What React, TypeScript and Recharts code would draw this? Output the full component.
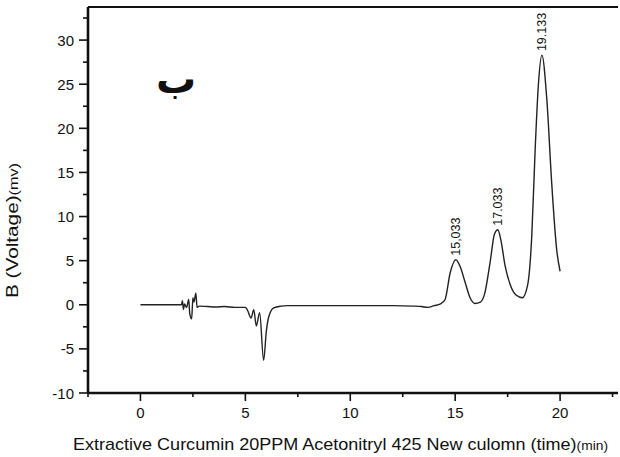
import { LineChart, Line, XAxis, YAxis, ReferenceLine, ReferenceDot } from "recharts";

// retention time (min)
const times = [
  0, 0.5, 1, 1.5, 1.95, 2.0, 2.05, 2.1, 2.2, 2.3, 2.35, 2.44, 2.5, 2.55, 2.64, 2.7, 2.8,
  3.2, 3.6, 4.0, 4.5, 5.0, 5.1, 5.27, 5.4, 5.52, 5.68, 5.87, 6.0, 6.1, 6.35, 6.7, 7.0,
  8, 9, 10, 11, 12, 13, 13.4, 13.7, 14.0, 14.3, 14.52, 14.76, 15.033, 15.24, 15.48, 15.71,
  15.95, 16.2, 16.4, 16.67, 16.87, 17.033, 17.18, 17.38, 17.62, 17.9, 18.2, 18.45, 18.65,
  18.81, 18.97, 19.133, 19.37, 19.6, 19.84, 20.0,
];

// detector signal (mV)
const voltage = [
  0, 0, 0, 0, 0, 0.45, -0.55, 0.1, -0.3, 0.6, -1.0, -1.6, 0.8, 0.3, 1.3, -0.3, -0.15,
  -0.2, -0.25, -0.2, -0.3, -0.3, -0.6, -1.5, -0.55, -2.4, -0.9, -6.3, -3.0, -1.5, -0.35, -0.15, -0.1,
  -0.1, -0.1, -0.1, -0.1, -0.1, -0.15, -0.2, -0.3, -0.1, 0.1, 0.6, 3.6, 5.1, 4.3, 2.5, 0.8,
  0.15, 0.3, 1.2, 4.9, 8.0, 8.5, 7.3, 4.4, 2.3, 1.1, 0.8, 2.2, 7.8,
  17.5, 25.1, 28.3, 23.2, 13.8, 6.2, 3.8,
];

const peakTimes = [15.033, 17.033, 19.133];
const peakHeights = [5.1, 8.5, 28.3];
const peakLabels = ["15,033", "17.033", "19.133"];

const xMajor = [0, 5, 10, 15, 20];
const xTicks = [-2.5, 0, 2.5, 5, 7.5, 10, 12.5, 15, 17.5, 20, 22.5];
const yTicks = [-10, -7.5, -5, -2.5, 0, 2.5, 5, 7.5, 10, 12.5, 15, 17.5, 20, 22.5, 25, 27.5, 30, 32.5];

const X_MIN = -2.5;
const X_MAX = 22.76;
const Y_MIN = -10;
const Y_MAX = 33.75;

const data = times.map((t, i) => ({ t, v: voltage[i] }));

const font = "'Liberation Sans', Arial, sans-serif";
const ink = "#111";

const XTick = (props: any) => {
  const { x, y, payload } = props;
  const major = xMajor.includes(payload.value);
  return (
    <g>
      <line x1={x} x2={x} y1={y} y2={y + (major ? 8 : 4)} stroke={ink} strokeWidth={1.6} />
      {major && (
        <text x={x} y={y + 25} textAnchor="middle" fontSize={15} fontFamily={font} fill={ink}>
          {payload.value}
        </text>
      )}
    </g>
  );
};

const YTick = (props: any) => {
  const { x, y, payload } = props;
  const major = payload.value % 5 === 0;
  return (
    <g>
      <line x1={x - (major ? 9 : 5)} x2={x} y1={y} y2={y} stroke={ink} strokeWidth={1.6} />
      {major && (
        <text x={x - 14} y={y + 5.5} textAnchor="end" fontSize={15} fontFamily={font} fill={ink}>
          {payload.value}
        </text>
      )}
    </g>
  );
};

const PeakLabel = (props: any) => {
  const { cx, cy, label } = props;
  return (
    <text
      transform={`translate(${cx + 4}, ${cy - 4}) rotate(-90)`}
      fontSize={12.5}
      fontFamily={font}
      fill={ink}
    >
      {label}
    </text>
  );
};

export default function App() {
  return (
    <div style={{ position: "absolute", left: 0, top: 0, width: 620, height: 457, background: "#fff" }}>
      <LineChart width={620} height={457} data={data} margin={{ top: 7, right: 2, bottom: 0, left: 0 }}>
        <XAxis
          dataKey="t"
          type="number"
          domain={[X_MIN, X_MAX]}
          ticks={xTicks}
          interval={0}
          allowDataOverflow
          height={64}
          tickSize={0}
          tickMargin={0}
          tickLine={false}
          tick={(p: any) => <XTick {...p} />}
          axisLine={{ stroke: ink, strokeWidth: 2.6 }}
          label={{
            content: () => (
              <text
                x={73}
                y={450}
                textLength={535}
                lengthAdjust="spacingAndGlyphs"
                fontSize={17}
                fontFamily={font}
                fill={ink}
              >
                Extractive Curcumin 20PPM Acetonitryl 425 New culomn (time)
                <tspan fontSize={13}>(min)</tspan>
              </text>
            ),
          }}
        />
        <YAxis
          type="number"
          domain={[Y_MIN, Y_MAX]}
          ticks={yTicks}
          interval={0}
          allowDataOverflow
          width={88}
          tickSize={0}
          tickMargin={0}
          tickLine={false}
          tick={(p: any) => <YTick {...p} />}
          axisLine={{ stroke: ink, strokeWidth: 2.6 }}
          label={{
            content: () => (
              <text
                transform="translate(18, 298) rotate(-90)"
                textLength={135}
                lengthAdjust="spacingAndGlyphs"
                fontSize={16}
                fontFamily={font}
                fill={ink}
              >
                B (Voltage)
                <tspan fontSize={12.5}>(mv)</tspan>
              </text>
            ),
          }}
        />
        <ReferenceLine y={Y_MAX} stroke={ink} strokeWidth={2} />
        <Line
          type="monotone"
          dataKey="v"
          stroke="#222"
          strokeWidth={1.4}
          dot={false}
          isAnimationActive={false}
        />
        {peakTimes.map((t, i) => (
          <ReferenceDot
            key={t}
            x={t}
            y={peakHeights[i]}
            r={0}
            shape={(p: any) => <PeakLabel {...p} label={peakLabels[i]} />}
          />
        ))}
      </LineChart>
      <div
        style={{
          position: "absolute",
          left: 156,
          top: 56,
          fontFamily: "'DejaVu Sans', sans-serif",
          fontWeight: 700,
          fontSize: 40,
          color: ink,
          lineHeight: "46px",
        }}
      >
        ب
      </div>
    </div>
  );
}
